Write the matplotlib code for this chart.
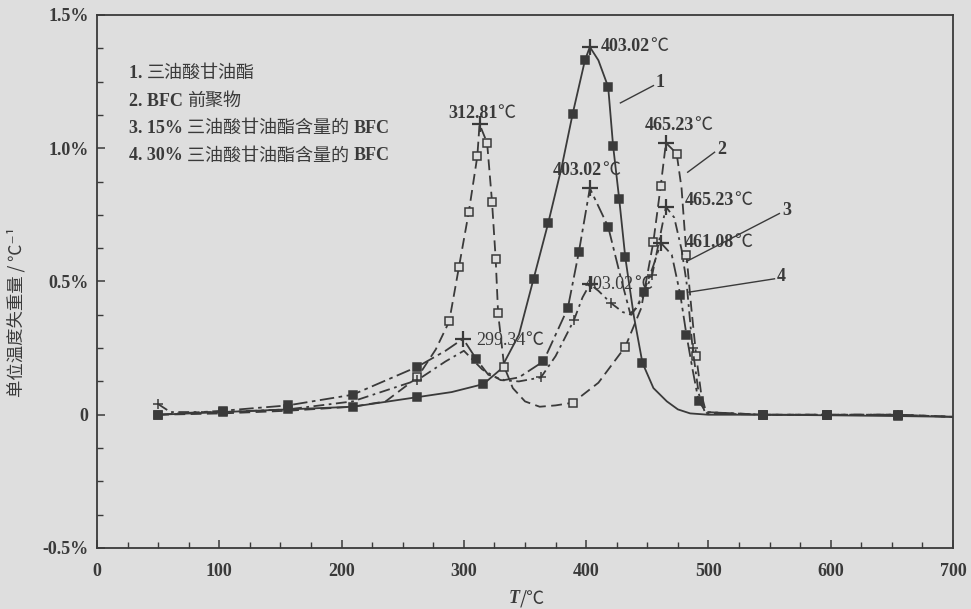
import matplotlib
matplotlib.use("Agg")
import matplotlib.pyplot as plt
from matplotlib.ticker import MultipleLocator, FixedLocator

FAM = ['Liberation Serif', 'Noto Sans CJK SC', 'DejaVu Sans']
CJK = ['Noto Sans CJK SC', 'DejaVu Sans']
plt.rcParams['font.family'] = FAM

# ---- data, y in % per degree C ----
t1 = [50, 103, 156, 209, 262, 290, 316, 330, 345, 357, 369, 380, 389, 399, 403.02, 410, 418, 422, 427,
      432, 439, 446, 455, 466, 475, 485, 500, 545, 597, 655, 700]
y1 = [0.0, 0.01, 0.02, 0.03, 0.066, 0.085, 0.115, 0.17, 0.3, 0.51, 0.72, 0.93, 1.13, 1.33, 1.38, 1.33, 1.23,
      1.01, 0.81, 0.59, 0.37, 0.195, 0.1, 0.05, 0.02, 0.005, 0.0, 0.0, -0.002, -0.005, -0.008]
m1 = [0, 1, 2, 3, 4, 6, 9, 10, 12, 13, 16, 17, 18, 19, 21, 27, 28, 29]

t2 = [50, 103, 156, 209, 236, 262, 277, 288, 296, 304, 311, 312.81, 319, 323, 326, 328, 333, 340, 350,
      362, 375, 389, 410, 432, 445, 455, 461, 465.23, 474, 478, 482, 486, 490, 494, 498, 545, 597, 655, 700]
y2 = [0.0, 0.005, 0.015, 0.03, 0.05, 0.14, 0.245, 0.35, 0.555, 0.76, 0.97, 1.09, 1.02, 0.8, 0.585, 0.38,
      0.18, 0.1, 0.05, 0.03, 0.035, 0.045, 0.12, 0.255, 0.4, 0.65, 0.86, 1.02, 0.98, 0.85, 0.6, 0.4, 0.22,
      0.08, 0.01, 0.0, 0.0, 0.0, -0.008]
m2 = [5, 7, 8, 9, 10, 12, 13, 14, 15, 16, 21, 23, 25, 26, 28, 30, 32, 35, 36, 37]

t3 = [50, 60, 103, 156, 209, 262, 285, 300, 315, 330, 345, 363, 375, 390, 397, 403.02, 410, 420, 430, 437,
      445, 454, 460, 465.23, 472, 478, 482, 487, 492, 497, 545, 597, 655, 700]
y3 = [0.04, 0.01, 0.01, 0.02, 0.05, 0.13, 0.2, 0.24, 0.17, 0.13, 0.125, 0.14, 0.22, 0.355, 0.44, 0.49,
      0.465, 0.42, 0.385, 0.375, 0.43, 0.525, 0.66, 0.78, 0.74, 0.62, 0.5, 0.25, 0.08, 0.01, 0.0, 0.0, 0.0,
      -0.008]
m3 = [0, 5, 11, 13, 17, 21, 27, 30, 31, 32]

t4 = [50, 103, 156, 209, 262, 285, 299.34, 310, 320, 333, 345, 365, 385, 394, 403.02, 418, 428, 436, 441,
      447, 455, 461.08, 470, 477, 482, 487, 492, 499, 545, 597, 655, 700]
y4 = [0.0, 0.015, 0.035, 0.075, 0.18, 0.24, 0.285, 0.21, 0.15, 0.13, 0.14, 0.2, 0.4, 0.61, 0.85, 0.705,
      0.52, 0.38, 0.4, 0.46, 0.56, 0.645, 0.6, 0.45, 0.3, 0.17, 0.05, 0.005, 0.0, 0.0, 0.0, -0.008]
m4 = [0, 1, 2, 3, 4, 7, 11, 12, 13, 15, 19, 23, 24, 26, 28, 29, 30]

# peaks marked with crosses: (series index, temperature)
peaks = [(0, 403.02), (1, 312.81), (1, 465.23), (2, 403.02), (2, 465.23), (3, 299.34), (3, 403.02), (3, 461.08)]

# legend block: (text, bold?) pieces per line
legend_lines = [
    [("1. ", True), ("三油酸甘油酯", False)],
    [("2. BFC ", True), ("前聚物", False)],
    [("3. 15% ", True), ("三油酸甘油酯含量的 ", False), ("BFC", True)],
    [("4. 30% ", True), ("三油酸甘油酯含量的 ", False), ("BFC", True)],
]

bg = '#dedede'
ink = '#3a3a3a'


def seg_text(ax, x, y, segs, size, va='center', **kw):
    # write pieces one after another, each starting where the last one ended
    prev = None
    for s, bold, fam in segs:
        props = dict(fontsize=size, color=ink, fontweight='bold' if bold else 'normal', family=fam)
        if prev is None:
            prev = ax.text(x, y, s, ha='left', va=va, **props, **kw)
        else:
            prev = ax.annotate(s, xy=(1, 0), xycoords=prev, ha='left', va='bottom', **props)
    return prev


def peak_label(ax, x, y, num, bold=True):
    seg_text(ax, x, y, [(num, bold, FAM), ("℃", False, CJK)], 13)


fig = plt.figure(figsize=(9.71, 6.09), dpi=100, facecolor=bg)
ax = fig.add_axes([0.0999, 0.1002, 0.8816, 0.8752], facecolor=bg)

series = [(t1, y1, m1), (t2, y2, m2), (t3, y3, m3), (t4, y4, m4)]
styles = [
    dict(ls='-', marker='s', mfc=ink, ms=5.2),
    dict(ls=(0, (6, 3)), marker='s', mfc=bg, ms=5.5),
    dict(ls=(0, (6, 2.5, 1.5, 2.5)), marker='+', mfc=ink, ms=7),
    dict(ls=(0, (8, 2.5, 2, 2.5)), marker='s', mfc=ink, ms=5.2),
]
for (t, y, m), st in zip(series, styles):
    ax.plot(t, y, color=ink, lw=1.3, ls=st['ls'], marker=st['marker'], markevery=m,
            mfc=st['mfc'], mec=ink, ms=st['ms'], mew=1.1)

for k, tp in peaks:
    t, y, _ = series[k]
    i = t.index(tp)
    ax.plot(t[i], y[i], marker='+', color=ink, ms=11, mew=1.6)

# peak labels
peak_label(ax, 412, 1.38, "403.02")
peak_label(ax, 287, 1.13, "312.81")
peak_label(ax, 373, 0.915, "403.02")
peak_label(ax, 448, 1.085, "465.23")
peak_label(ax, 481, 0.805, "465.23")
peak_label(ax, 481, 0.645, "461.08")
peak_label(ax, 399, 0.49, "403.02", bold=False)
peak_label(ax, 310, 0.28, "299.34", bold=False)

# curve numbers with leader lines
for num, (x0, y0), (x1, y1_) in [("1", (428, 1.17), (455, 1.235)),
                                 ("2", (483, 0.91), (505, 0.985)),
                                 ("3", (482, 0.575), (558, 0.755)),
                                 ("4", (484, 0.46), (554, 0.51))]:
    ax.plot([x0, x1], [y0, y1_], color=ink, lw=1.0)
    ax.text(x1 + 2, y1_ + 0.01, num, fontsize=13, fontweight='bold', color=ink, va='center')

for i, line in enumerate(legend_lines):
    seg_text(ax, 26, 1.28 - i * 0.103, [(s, b, FAM) for s, b in line], 13)

ax.set_xlim(0, 700)
ax.set_ylim(-0.5, 1.5)
ax.xaxis.set_major_locator(MultipleLocator(100))
ax.xaxis.set_minor_locator(MultipleLocator(25))
ax.yaxis.set_major_locator(FixedLocator([-0.5, 0, 0.5, 1.0, 1.5]))
ax.yaxis.set_minor_locator(MultipleLocator(0.125))
ax.set_yticklabels(["-0.5%", "0", "0.5%", "1.0%", "1.5%"])
ax.tick_params(which='both', direction='in', color=ink, top=False, right=False)
ax.tick_params(which='major', length=6, width=1.1, labelsize=13, labelcolor=ink)
ax.tick_params(axis='x', which='major', pad=11)
ax.tick_params(axis='y', which='major', pad=6)
ax.tick_params(which='minor', length=4, width=1.0)
for lab in ax.get_xticklabels() + ax.get_yticklabels():
    lab.set_fontweight('bold')
for sp in ax.spines.values():
    sp.set_color(ink)
    sp.set_linewidth(1.3)

ax.set_ylabel("单位温度失重量 / ℃⁻¹", fontsize=12.5, color=ink, family=CJK)
ax.yaxis.set_label_coords(-0.083, 0.443)
ax.text(0.494, -0.094, "T", transform=ax.transAxes, ha='right', va='center',
        fontsize=13, fontstyle='italic', fontweight='bold', color=ink)
ax.text(0.494, -0.094, "/℃", transform=ax.transAxes, ha='left', va='center',
        fontsize=13, color=ink, family=CJK)

fig.savefig("out.png", dpi=100, facecolor=bg)
